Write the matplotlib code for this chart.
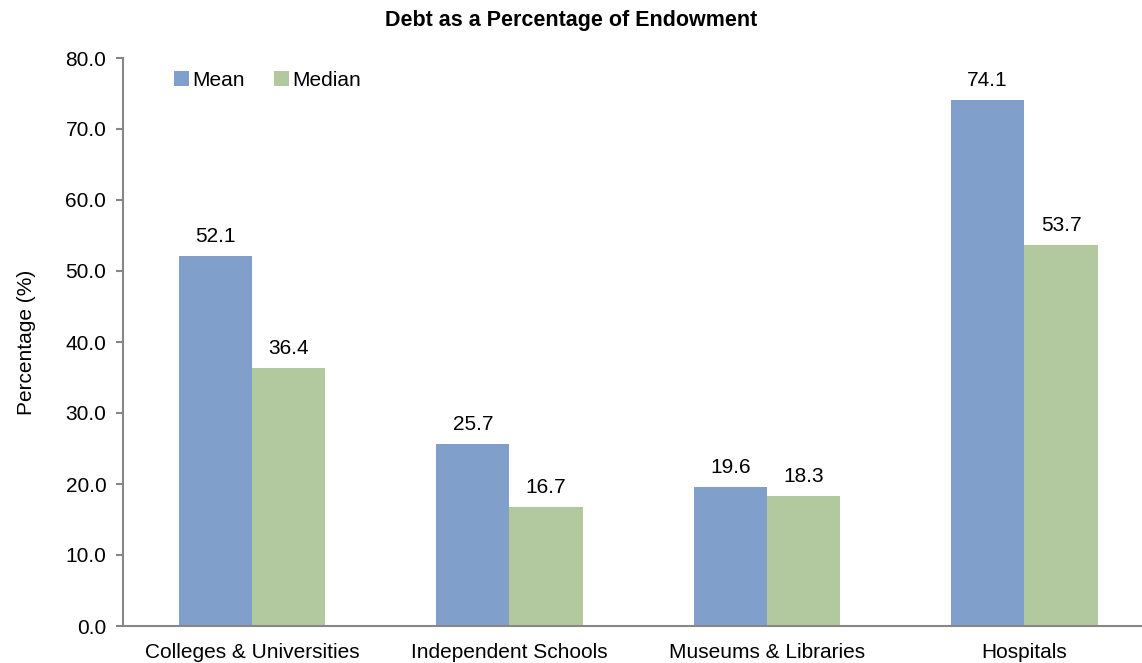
import matplotlib
matplotlib.use("Agg")
import matplotlib.pyplot as plt
import numpy as np

plt.rcParams['font.family'] = ['Liberation Sans', 'DejaVu Sans']

categories = ["Colleges & Universities", "Independent Schools", "Museums & Libraries", "Hospitals"]
mean_vals = [52.1, 25.7, 19.6, 74.1]
median_vals = [36.4, 16.7, 18.3, 53.7]
yticks = [0, 10, 20, 30, 40, 50, 60, 70, 80]

blue = "#819FCB"
green = "#B2C99F"
grey = "#878787"
fs = 15

fig = plt.figure(figsize=(11.42, 6.63), dpi=100)
ax = fig.add_axes([123 / 1142, 37 / 663, (1142 - 123) / 1142, 568 / 663])

x = np.arange(len(categories))
w = 0.285
b1 = ax.bar(x - w / 2, mean_vals, w, color=blue, label="Mean")
b2 = ax.bar(x + w / 2, median_vals, w, color=green, label="Median")

for bars, vals in ((b1, mean_vals), (b2, median_vals)):
    for r, v in zip(bars, vals):
        ax.text(r.get_x() + r.get_width() / 2, v + 1.4, f"{v:.1f}",
                ha="center", va="bottom", fontsize=fs)

ax.set_xlim(-0.501, 3.457)
ax.set_ylim(0, 80)
ax.set_yticks(yticks)
ax.set_yticklabels([f"{t:.1f}" for t in yticks], fontsize=fs)
ax.set_xticks(x)
ax.set_xticklabels(categories, fontsize=fs)
ax.tick_params(axis="x", length=0, pad=12)
ax.tick_params(axis="y", direction="out", length=5, color=grey, width=1.5, pad=7)

for s in ("top", "right"):
    ax.spines[s].set_visible(False)
for s in ("left", "bottom"):
    ax.spines[s].set_color(grey)
    ax.spines[s].set_linewidth(1.5)

ax.set_ylabel("Percentage (%)", fontsize=fs, labelpad=21)
fig.suptitle("Debt as a Percentage of Endowment", fontsize=15.5, fontweight="bold", y=0.985)

ax.legend(loc="upper left", bbox_to_anchor=(0.032, 1.01), ncol=2, frameon=False,
          fontsize=fs, handlelength=0.7, handleheight=0.7, handletextpad=0.15,
          columnspacing=1.42)

fig.savefig("out.png", dpi=100)
